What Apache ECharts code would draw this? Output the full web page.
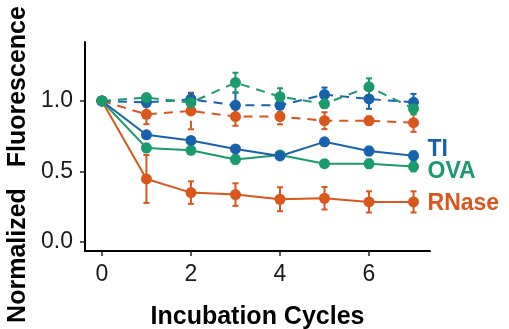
<!DOCTYPE html>
<html>
<head>
<meta charset="utf-8">
<script src="https://cdn.jsdelivr.net/npm/echarts@6/dist/echarts.min.js"></script>
<style>
  html, body { margin: 0; padding: 0; background: #fff; }
  #chart { width: 509px; height: 329px; }
</style>
</head>
<body>
<div id="chart"></div>
<script>
const cycles = [0, 1, 2, 3, 4, 5, 6, 7];
const xTicks = [0, 2, 4, 6];
const yTicks = [0, 0.5, 1.0];

// solid lines
const tiSolid = [1.0, 0.76, 0.72, 0.66, 0.61, 0.71, 0.645, 0.612];
const tiSolidErr = [0, 0.02, 0.02, 0.02, 0.02, 0.02, 0.03, 0.03];
const ovaSolid = [1.0, 0.667, 0.65, 0.585, 0.617, 0.555, 0.555, 0.535];
const ovaSolidErr = [0, 0.03, 0.025, 0.03, 0.02, 0.02, 0.03, 0.035];
const rnaseSolid = [1.0, 0.447, 0.35, 0.336, 0.303, 0.31, 0.284, 0.284];
const rnaseSolidErr = [0, 0.17, 0.08, 0.08, 0.085, 0.08, 0.075, 0.075];

// dashed lines
const tiDashed = [1.0, 0.99, 1.012, 0.969, 0.969, 1.045, 1.014, 0.99];
const tiDashedErr = [0, 0.03, 0.04, 0.09, 0.05, 0.05, 0.07, 0.06];
const ovaDashed = [1.0, 1.024, 0.988, 1.13, 1.03, 0.98, 1.10, 0.945];
const ovaDashedErr = [0, 0.02, 0.03, 0.07, 0.06, 0.03, 0.06, 0.04];
const rnaseDashed = [1.0, 0.905, 0.929, 0.889, 0.889, 0.86, 0.86, 0.846];
const rnaseDashedErr = [0, 0.07, 0.13, 0.065, 0.055, 0.06, 0.03, 0.065];

const BLUE = '#1762AC';
const GREEN = '#1B9A6E';
const ORANGE = '#D9571C';
const FONT = 'Liberation Sans, Arial, sans-serif';

const pairs = (vals) => cycles.map((c, i) => [c, vals[i]]);
const errData = (vals, errs) => cycles.map((c, i) => [c, vals[i] - errs[i], vals[i] + errs[i]]);

function lineSeries(name, vals, color, dashed, labelOffset) {
  const s = {
    name,
    type: 'line',
    data: pairs(vals),
    symbol: 'circle',
    symbolSize: 11,
    showSymbol: true,
    itemStyle: { color },
    lineStyle: { color, width: 2, type: dashed ? [9, 7] : 'solid' },
    z: 3,
    emphasis: { disabled: true },
  };
  if (labelOffset) {
    s.endLabel = {
      show: true,
      formatter: name,
      color,
      fontFamily: FONT,
      fontSize: 23,
      fontWeight: 'bold',
      offset: labelOffset,
    };
  }
  return s;
}

function errSeries(vals, errs, color, dashed) {
  return {
    type: 'custom',
    data: errData(vals, errs),
    z: 2,
    silent: true,
    renderItem(params, api) {
      const x = api.value(0);
      const top = api.coord([x, api.value(2)]);
      const bot = api.coord([x, api.value(1)]);
      const cap = 3;
      const style = { stroke: color, lineWidth: 2, lineDash: dashed ? [8, 6] : null, fill: null };
      return {
        type: 'group',
        children: [
          { type: 'line', shape: { x1: top[0], y1: top[1], x2: bot[0], y2: bot[1] }, style },
          { type: 'line', shape: { x1: top[0] - cap, y1: top[1], x2: top[0] + cap, y2: top[1] }, style: { stroke: color, lineWidth: 2 } },
          { type: 'line', shape: { x1: bot[0] - cap, y1: bot[1], x2: bot[0] + cap, y2: bot[1] }, style: { stroke: color, lineWidth: 2 } },
        ],
      };
    },
  };
}

const chart = echarts.init(document.getElementById('chart'), null, { renderer: 'canvas' });

chart.setOption({
  backgroundColor: '#fff',
  animation: false,
  grid: { left: 85, right: 79, top: 42, bottom: 78, containLabel: false, outerBoundsMode: 'none' },
  xAxis: {
    type: 'value',
    min: -0.38,
    max: 7.37,
    name: 'Incubation Cycles',
    nameLocation: 'middle',
    nameGap: 54,
    nameTextStyle: { fontFamily: FONT, fontSize: 25, fontWeight: 'bold', color: '#000' },
    axisLine: { show: true, onZero: false, lineStyle: { color: '#000', width: 2 } },
    axisTick: { show: true, customValues: xTicks, length: 5, lineStyle: { color: '#222', width: 1.5 } },
    axisLabel: { customValues: xTicks, fontFamily: FONT, fontSize: 23, color: '#1a1a1a', margin: 12 },
    splitLine: { show: false },
  },
  yAxis: {
    type: 'value',
    min: -0.064,
    max: 1.418,
    name: 'Normalized   Fluorescence',
    nameLocation: 'middle',
    nameGap: 48,
    nameTextStyle: {
      fontFamily: FONT,
      fontSize: 25,
      fontWeight: 'bold',
      color: '#000',
      padding: [0, 36, 0, 0],
    },
    axisLine: { show: true, onZero: false, lineStyle: { color: '#000', width: 2 } },
    axisTick: { show: true, customValues: yTicks, length: 5, lineStyle: { color: '#222', width: 1.5 } },
    axisLabel: {
      customValues: yTicks,
      formatter: (v) => v.toFixed(1),
      fontFamily: FONT,
      fontSize: 23,
      color: '#1a1a1a',
      margin: 12,
    },
    splitLine: { show: false },
  },
  series: [
    errSeries(rnaseSolid, rnaseSolidErr, ORANGE, false),
    errSeries(ovaSolid, ovaSolidErr, GREEN, false),
    errSeries(tiSolid, tiSolidErr, BLUE, false),
    errSeries(rnaseDashed, rnaseDashedErr, ORANGE, true),
    errSeries(tiDashed, tiDashedErr, BLUE, true),
    errSeries(ovaDashed, ovaDashedErr, GREEN, true),
    lineSeries('RNase', rnaseSolid, ORANGE, false, [6, 2]),
    lineSeries('OVA', ovaSolid, GREEN, false, [6, 5]),
    lineSeries('TI', tiSolid, BLUE, false, [6, -6]),
    lineSeries('RNase dashed', rnaseDashed, ORANGE, true),
    lineSeries('TI dashed', tiDashed, BLUE, true),
    lineSeries('OVA dashed', ovaDashed, GREEN, true),
  ],
});
</script>
</body>
</html>
